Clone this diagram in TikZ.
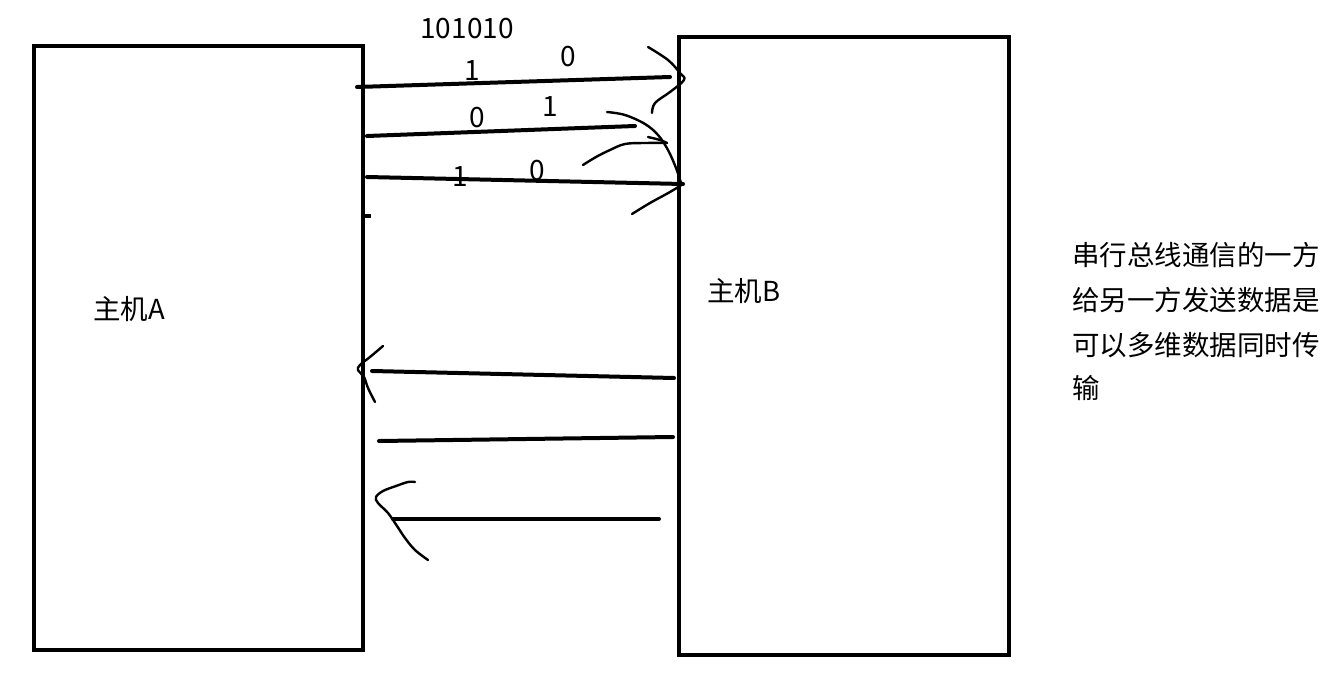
\documentclass[tikz,border=0pt]{standalone}
\usepackage{fontspec}
\newfontfamily\cjk{Noto Sans CJK SC}
\begin{document}
\begin{tikzpicture}[x=1pt,y=-1pt,
  hostbox/.style={draw, line width=3.5pt, inner sep=0pt, outer sep=0pt},
  wire/.style={line width=4pt, line cap=round},
  scribble/.style={line width=2.4pt, line cap=round, line join=round},
  txt/.style={font=\cjk\fontsize{27.5pt}{32pt}\selectfont, inner sep=0pt},
  bit/.style={font=\cjk\fontsize{28pt}{32pt}\selectfont, inner sep=0pt}]
\useasboundingbox (0,0) rectangle (1335,685);
\fill[white] (0,0) rectangle (1335,685);
% hosts
\node[hostbox, minimum width=329pt, minimum height=604pt] (A) at (198.5,348) {};
\node[hostbox, minimum width=330pt, minimum height=618pt] (B) at (844,346) {};
\node[txt, anchor=west] (la) at (93,309) {主机A};
\node[txt, anchor=west] (lb) at (707,291) {主机B};
% wire end points
\coordinate (a1) at (357,87);  \coordinate (b1) at (670,77);
\coordinate (a2) at (367,136); \coordinate (b2) at (635,126);
\coordinate (a3) at (367,177); \coordinate (b3) at (683,184);
\coordinate (a4) at (372,371); \coordinate (b4) at (674,378);
\coordinate (a5) at (379,441); \coordinate (b5) at (673,437);
\coordinate (a6) at (393,519); \coordinate (b6) at (659,519);
\coordinate (t1) at (363,216); \coordinate (t2) at (371,216);
\draw[wire] (a1) -- (b1);
\draw[wire] (a2) -- (b2);
\draw[wire] (a3) -- (b3);
\draw[wire] (b4) -- (a4);
\draw[wire] (b5) -- (a5);
\draw[wire] (b6) -- (a6);
\draw[line width=3.5pt] (t1) -- (t2);
% hand drawn arrow heads
\draw[scribble] plot[smooth, tension=0.6] coordinates {(648,47) (668,60) (680,73) (684,80) (670,92) (655,103) (652,113)};
\draw[scribble] plot[smooth, tension=0.6] coordinates {(607,112) (625,115) (645,124) (658,135) (668,150) (676,168) (681,183)};
\draw[scribble] plot[smooth, tension=0.6] coordinates {(648,137) (660,140) (667,143)};
\draw[scribble] plot[smooth, tension=0.6] coordinates {(583,165) (596,157) (610,150) (625,144) (645,143) (667,143)};
\draw[scribble] plot[smooth, tension=0.6] coordinates {(683,184) (670,192) (650,203) (632,214)};
\draw[scribble] plot[smooth, tension=0.6] coordinates {(383,346) (370,357) (360,365) (358,370) (364,377) (368,388) (375,402)};
\draw[scribble] plot[smooth, tension=0.6] coordinates {(415,482) (408,482) (396,486) (383,491) (376,497) (378,503) (388,513) (397,526) (405,538) (415,550) (428,560)};
% bits
\node[bit] (seq) at (467,29) {101010};
\node[bit] (b11) at (472,71) {1};
\node[bit] (b10) at (568,57) {0};
\node[bit] (b20) at (477,118) {0};
\node[bit] (b21) at (550,107) {1};
\node[bit] (b31) at (460,177) {1};
\node[bit] (b30) at (537,171) {0};
% note
\node[txt, anchor=west] (n1) at (1072,255) {串行总线通信的一方};
\node[txt, anchor=west] (n2) at (1072,300) {给另一方发送数据是};
\node[txt, anchor=west] (n3) at (1072,345) {可以多维数据同时传};
\node[txt, anchor=west] (n4) at (1072,388) {输};
\end{tikzpicture}
\end{document}
